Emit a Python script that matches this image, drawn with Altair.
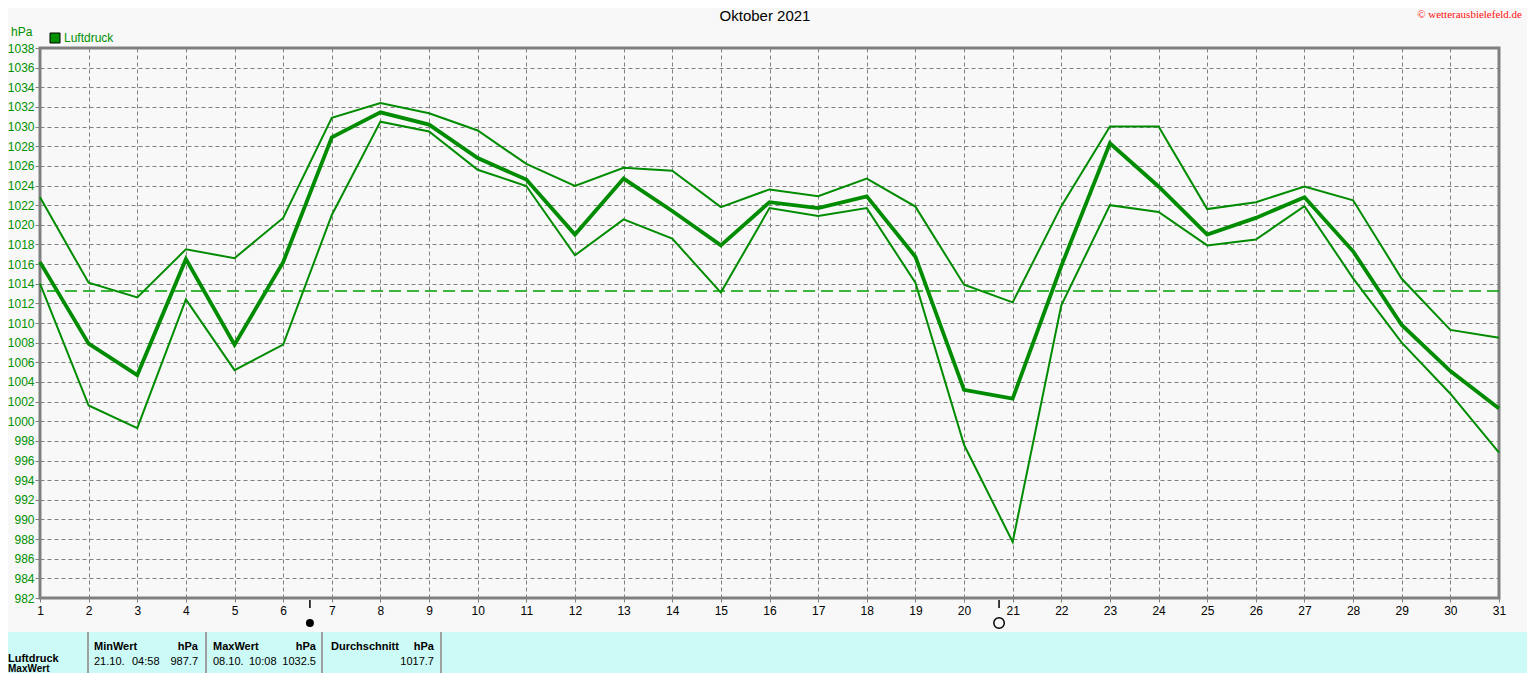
import altair as alt
import pandas as pd

# ---------------- data ----------------
days = list(range(1, 32))
p_max = [1022.8, 1014.1, 1012.6, 1017.5, 1016.6, 1020.7, 1030.9, 1032.4, 1031.35, 1029.6,
         1026.2, 1023.95, 1025.8, 1025.5, 1021.8, 1023.6, 1022.9, 1024.7, 1021.85, 1013.9,
         1012.1, 1021.9, 1030.0, 1030.0, 1021.6, 1022.3, 1023.9, 1022.5, 1014.5, 1009.3, 1008.5]
p_mean = [1016.2, 1007.9, 1004.7, 1016.5, 1007.8, 1016.2, 1028.9, 1031.45, 1030.2, 1026.8,
          1024.6, 1019.0, 1024.7, 1021.4, 1017.9, 1022.3, 1021.7, 1022.9, 1016.75, 1003.2,
          1002.3, 1015.8, 1028.3, 1023.9, 1019.0, 1020.7, 1022.8, 1017.3, 1009.8, 1005.1, 1001.3]
p_min = [1014.0, 1001.6, 999.3, 1012.4, 1005.2, 1007.8, 1021.0, 1030.5, 1029.5, 1025.6,
         1023.95, 1016.9, 1020.55, 1018.6, 1013.1, 1021.7, 1020.9, 1021.7, 1014.1, 997.6,
         987.7, 1011.8, 1022.0, 1021.3, 1017.9, 1018.5, 1021.9, 1014.55, 1008.0, 1002.8, 996.8]
reference_level = 1013.25
y_ticks = list(range(982, 1040, 2))
new_moon_day = 6.55
full_moon_day = 20.72

title_text = "Oktober 2021"
unit_text = "hPa"
legend_text = "Luftdruck"
copyright_text = "\u00a9 wetterausbielefeld.de"

table_left = ["Luftdruck", "MaxWert"]
table_heads = ["MinWert", "MaxWert", "Durchschnitt"]
table_units = ["hPa", "hPa", "hPa"]
table_dates = ["21.10.", "08.10.", ""]
table_times = ["04:58", "10:08", ""]
table_vals = ["987.7", "1032.5", "1017.7"]

# ---------------- style ----------------
GREEN = "#008C00"
GRID = "#808080"
BG = "#F8F8F8"
FONT = "Liberation Sans"
W, H = 1459, 550

x_enc = alt.X("day:Q", title=None,
              scale=alt.Scale(domain=[1, 31], nice=False, zero=False),
              axis=alt.Axis(values=days, format="d", grid=True, gridDash=[4, 3],
                            gridColor=GRID, gridOpacity=1, domain=False,
                            tickSize=4, tickColor=GRID, labelColor="black",
                            labelFont=FONT, labelFontSize=12, labelPadding=3,
                            labelFlush=False, labelOverlap=False))
y_enc = alt.Y("value:Q", title=None,
              scale=alt.Scale(domain=[982, 1038], nice=False, zero=False),
              axis=alt.Axis(values=y_ticks, format="d", grid=True, gridDash=[4, 3],
                            gridColor=GRID, gridOpacity=1, domain=False,
                            tickSize=5, tickColor=GRID, labelColor="#009000",
                            labelFont=FONT, labelFontSize=12, labelPadding=1,
                            labelFlush=False, labelOverlap=False))


def series_line(vals, width):
    d = pd.DataFrame({"day": days, "value": vals})
    return alt.Chart(d).mark_line(color=GREEN, interpolate="linear",
                                  strokeWidth=width).encode(x=x_enc, y=y_enc)


line_max = series_line(p_max, 2)
line_mean = series_line(p_mean, 3.8)
line_min = series_line(p_min, 2)

ref = alt.Chart(pd.DataFrame({"value": [reference_level]})).mark_rule(
    color="#00A000", strokeDash=[12, 6], strokeWidth=1.5
).encode(y=y_enc)

one = pd.DataFrame({"a": [0]})


def txt(text, x, y, color="black", size=12, align="left", weight="normal",
        font=FONT, baseline="middle"):
    return alt.Chart(one).mark_text(
        text=text, align=align, baseline=baseline, color=color, fontSize=size,
        fontWeight=weight, font=font
    ).encode(x=alt.value(x), y=alt.value(y))


annots = [
    txt(title_text, 725, -27, size=15, align="center", baseline="alphabetic"),
    txt(unit_text, -29, -16, color="#009000", size=12),
    txt(legend_text, 24, -10, color="#009000", size=12),
    txt(copyright_text, 1482, -30.5, color="#FF1010", size=11, align="right",
        font="Liberation Serif", baseline="alphabetic"),
]
legend_sq = alt.Chart(one).mark_square(size=100, color="#009000", stroke="black",
                                       strokeWidth=1, opacity=1).encode(
    x=alt.value(15), y=alt.value(-10))

# moon phases
moon_df = pd.DataFrame({"day": [new_moon_day, full_moon_day], "phase": ["new", "full"]})
moon_ticks = alt.Chart(moon_df).mark_rule(color="black", strokeWidth=1.5).encode(
    x=x_enc, y=alt.value(552), y2=alt.value(560))
moon_new = alt.Chart(moon_df[moon_df.phase == "new"]).mark_circle(
    size=64, color="black", opacity=1).encode(x=x_enc, y=alt.value(575))
moon_full = alt.Chart(moon_df[moon_df.phase == "full"]).mark_point(
    shape="circle", size=110, color="black", strokeWidth=1.5, filled=False, opacity=1).encode(
    x=x_enc, y=alt.value(575))

# bottom table
table_bg = alt.Chart(one).mark_rect(color="#CCFAF6").encode(
    x=alt.value(-40), x2=alt.value(1487), y=alt.value(584), y2=alt.value(660))
seps = [alt.Chart(one).mark_rule(color="#A0A0A0", strokeWidth=2).encode(
    x=alt.value(sx), y=alt.value(584), y2=alt.value(660)) for sx in [48, 166, 282, 401]]

TS = 11
table_txt = [
    txt(table_left[0], -32, 611, weight="bold", size=TS),
    txt(table_left[1], -32, 620.5, weight="bold", size=10),
]
col_left = [54, 173, 291]
col_time = [92, 209, 0]
col_right = [158, 276, 394]
for i in range(3):
    table_txt.append(txt(table_heads[i], col_left[i], 599, weight="bold", size=TS))
    table_txt.append(txt(table_units[i], col_right[i], 599, weight="bold", align="right", size=TS))
    if table_dates[i]:
        table_txt.append(txt(table_dates[i], col_left[i], 614, size=TS))
        table_txt.append(txt(table_times[i], col_time[i], 614, size=TS))
    table_txt.append(txt(table_vals[i], col_right[i], 614, align="right", size=TS))

chart = alt.layer(
    line_max, line_mean, line_min, ref, moon_ticks, moon_new, moon_full, legend_sq,
    table_bg, *seps, *annots, *table_txt
).properties(
    width=W, height=H,
    background=BG,
    padding={"left": 32, "top": 40, "right": 28, "bottom": 75},
    autosize=alt.AutoSizeParams(type="none"),
).configure_view(
    stroke=GRID, strokeWidth=3, fill=BG
)

chart.save("out.html", embed_options={"renderer": "svg", "actions": False})
